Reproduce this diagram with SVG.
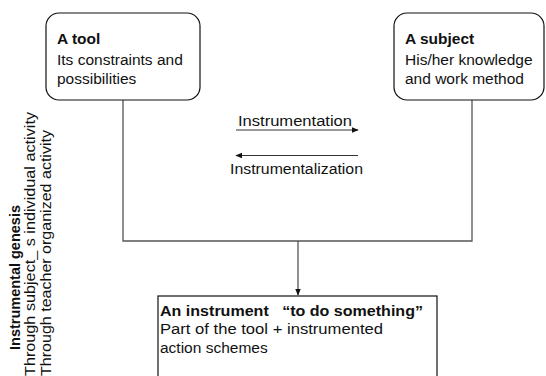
<svg xmlns="http://www.w3.org/2000/svg" width="546" height="376" viewBox="0 0 546 376">
<defs>
<style>
text{font-family:"Liberation Sans",Arial,sans-serif;font-size:15.5px;fill:#111}
.b{font-weight:bold}
.v{font-size:14.5px}
.box{fill:#fff;stroke:#111;stroke-width:1.2}
.ln{fill:none;stroke:#555;stroke-width:1.3}
.ar{fill:none;stroke:#333;stroke-width:1}
</style>
<marker id="ah" viewBox="0 0 10 10" refX="9" refY="5" markerWidth="7" markerHeight="7" orient="auto" markerUnits="userSpaceOnUse">
<path d="M0,1 L10,5 L0,9 z" fill="#111"/>
</marker>
</defs>
<g id="connectors">
<polyline class="ln" points="123,100 123,241 472,241 472,100"/>
<line class="ln" x1="298" y1="241" x2="298" y2="295" marker-end="url(#ah)"/>
<line class="ar" x1="236" y1="130" x2="358" y2="130" marker-end="url(#ah)"/>
<line class="ar" x1="358" y1="155.5" x2="236" y2="155.5" marker-end="url(#ah)"/>
<text x="238" y="126" textLength="114" lengthAdjust="spacingAndGlyphs">Instrumentation</text>
<text x="230" y="174" textLength="133" lengthAdjust="spacingAndGlyphs">Instrumentalization</text>
</g>
<g id="tool">
<rect class="box" x="46" y="13" width="154" height="87" rx="13"/>
<text class="b" x="57" y="44">A tool</text>
<text x="57" y="65">Its constraints and</text>
<text x="57" y="84">possibilities</text>
</g>
<g id="subject">
<rect class="box" x="394" y="13" width="150" height="87" rx="13"/>
<text class="b" x="405" y="44">A subject</text>
<text x="405" y="65">His/her knowledge</text>
<text x="405" y="84">and work method</text>
</g>
<g id="instrument">
<rect class="box" x="158" y="296" width="279" height="90"/>
<text class="b" x="160" y="316" xml:space="preserve" textLength="263" lengthAdjust="spacingAndGlyphs">An instrument   “to do something”</text>
<text x="160" y="334" textLength="223" lengthAdjust="spacingAndGlyphs">Part of the tool + instrumented</text>
<text x="160" y="353">action schemes</text>
</g>
<g id="genesis">
<text class="b v" transform="translate(20,350) rotate(-90)" textLength="145" lengthAdjust="spacingAndGlyphs">Instrumental genesis</text>
<text class="v" transform="translate(35,376) rotate(-90)" textLength="264" lengthAdjust="spacingAndGlyphs">Through subject_ s individual activity</text>
<text class="v" transform="translate(51,376) rotate(-90)" textLength="246" lengthAdjust="spacingAndGlyphs">Through teacher organized activity</text>
</g>
</svg>
